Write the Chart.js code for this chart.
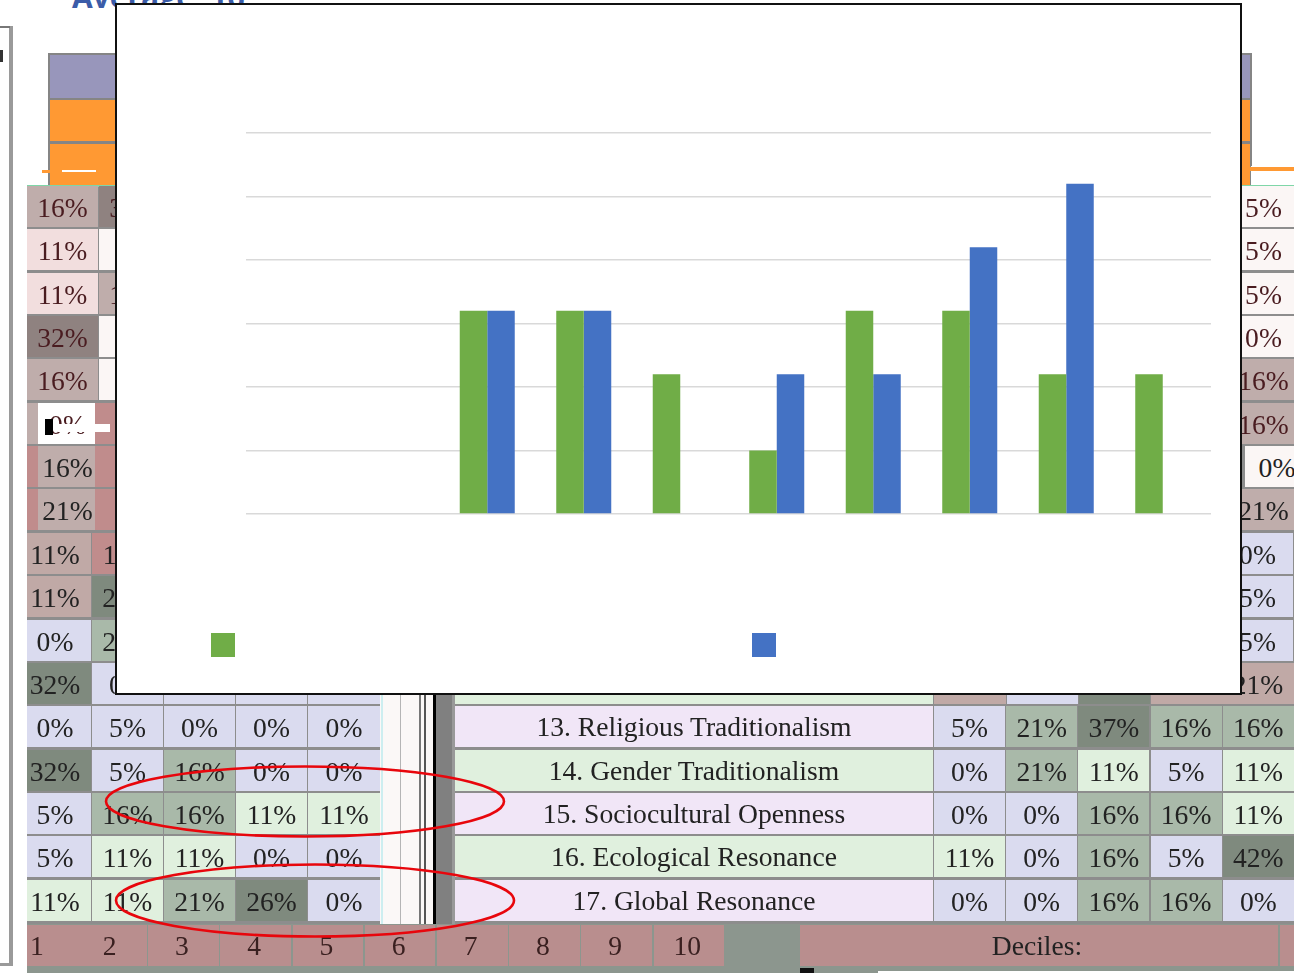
<!DOCTYPE html>
<html>
<head>
<meta charset="utf-8">
<title>Deciles</title>
<script src="https://cdn.jsdelivr.net/npm/chart.js@4"></script>
<style>
  html, body { margin: 0; padding: 0; background: #fff; }
  #page { position: relative; width: 1294px; height: 973px; overflow: hidden; background: #fff; }
  .box { position: absolute; }
  .cell { position: absolute; box-sizing: border-box; padding-top: 3px; font-family: "Liberation Serif", serif; font-size: 27.6px; color: #222;
          display: flex; align-items: center; justify-content: center; white-space: nowrap; overflow: hidden; }
  #table { position: absolute; left: 0; top: 0; width: 1294px; height: 973px; filter: blur(0.45px); }
  #title { position: absolute; left: 72px; top: -24px; font: bold 30px "Open Sans", sans-serif; color: #3b5ca8; }
  #panel { position: absolute; left: 115px; top: 3px; width: 1123px; height: 688px; background: #fff; border: 2px solid #111; }
  #chartWrap { position: absolute; left: 0; top: 0; width: 1123px; height: 688px; }
  .swatch { position: absolute; top: 628px; width: 24px; height: 24px; }
  #ellipses { position: absolute; left: 0; top: 0; }
</style>
</head>
<body>
<div id="page">
  <div id="title">Average: 16</div>
  <div id="table"></div>
  <div id="panel">
    <div id="chartWrap"><canvas id="decileChart" width="1123" height="688"></canvas></div>
  </div>
  <svg id="ellipses" width="1294" height="973">
    <ellipse cx="305" cy="801.5" rx="199" ry="35" fill="none" stroke="#e8060c" stroke-width="2.6"/>
    <ellipse cx="315" cy="900.5" rx="199" ry="36" fill="none" stroke="#e8060c" stroke-width="2.6"/>
  </svg>
</div>

<script>
// chart data
const deciles = ['1', '2', '3', '4', '5', '6', '7', '8', '9', '10'];
const greenValues = [0, 0, 16, 16, 11, 5, 16, 16, 11, 11];
const blueValues = [0, 0, 16, 16, 0, 11, 11, 21, 26, 0];
const yTicks = [0, 5, 10, 15, 20, 25, 30];
const GREEN = '#70ad47';
const BLUE = '#4472c4';

// table behind the chart, what can be read of it
const leftCol1 = [16, 11, 11, 32, 16, 0, 16, 21, 11, 11, 0, 32, 0, 32, 5, 5, 11];
const leftCol2 = [32, 0, 16, 0, 0, 16, 16, 16, 11, 26, 21, 0, 5, 5, 16, 11, 11];
const leftCol3 = [0, 16, 16, 11, 21];   // rows 13 to 17
const leftCol4 = [0, 0, 11, 0, 26];
const leftCol5 = [0, 0, 11, 0, 0];
const rowLabels = ['13. Religious Traditionalism', '14. Gender Traditionalism', '15. Sociocultural Openness',
  '16. Ecological Resonance', '17. Global Resonance'];
const rightCol1 = [5, 0, 0, 11, 0];
const rightCol2 = [21, 21, 0, 0, 0];
const rightCol3 = [37, 11, 16, 16, 16];
const rightCol4 = [16, 5, 16, 5, 16];
const rightCol5 = [16, 11, 11, 42, 0];
const lastCol = [5, 5, 5, 0, 16, 16, 0, 21, 0, 5, 5, 21];

const table = document.getElementById('table');

function addBox(x, y, w, h, color) {
  const d = document.createElement('div');
  d.className = 'box';
  d.style.cssText = `left:${x}px;top:${y}px;width:${w}px;height:${h}px;background:${color}`;
  table.appendChild(d);
  return d;
}

function addCell(x, y, w, h, color, text, extra) {
  const d = document.createElement('div');
  d.className = 'cell';
  d.style.cssText = `left:${x}px;top:${y}px;width:${w}px;height:${h}px;background:${color};${extra || ''}`;
  d.textContent = text;
  table.appendChild(d);
}

function roseColor(v) {
  if (v <= 5) return '#fbf6f5';
  if (v <= 11) return '#f2dede';
  if (v <= 21) return '#bfadab';
  return '#8f8280';
}

function coolColor(v) {
  if (v <= 5) return '#dadbef';
  if (v <= 11) return '#e0f0de';
  if (v <= 21) return '#a9b9a9';
  return '#7f8a7e';
}

const rowY = i => 186 + 43.35 * i;
const ROW_H = 41;
const COL1_PAD = 'padding-right:8px;';

// outer frame on the left
addBox(9, 26, 4, 940, '#9a9a9a');
addBox(0, 26, 10, 2, '#777');
addBox(0, 963, 13, 3, '#9a9a9a');
addBox(0, 50, 3, 12, '#333');

// headers
addBox(48, 53, 1204, 133, '#858585');
addBox(50, 55, 1200, 43, '#9896bb');
addBox(50, 100, 1200, 41, '#ff9933');
addBox(50, 144, 1200, 41, '#ff9933');
addBox(42, 170, 14, 3, '#ff9933');
addBox(62, 170, 34, 2, '#fff');
addBox(1251, 166, 43, 20, '#fff');
addBox(1250, 167, 44, 4, '#ff9933');
addBox(27, 185, 1267, 2, '#7fd6a8');

// grey ground for the table
addBox(27, 187, 1267, 737, '#8d8d8d');

// left columns, upper rows
leftCol1.forEach((v, i) => {
  const y = rowY(i);
  const ink = i < 6 ? 'color:#4a1c20;' : '';
  if (i < 5) {
    addCell(27, y, 71, ROW_H, roseColor(v), v + '%', ink);
    addCell(99, y, 71, ROW_H, roseColor(leftCol2[i]), leftCol2[i] + '%', ink);
  } else if (i < 8) {
    addBox(27, y, 11, ROW_H, i === 5 ? '#bfadab' : '#c08c8c');
    addCell(38, y, 59, ROW_H, i === 5 ? '#fff' : '#bfadab', v + '%', ink);
    addBox(95, y, 20, ROW_H, '#c08c8c');
  } else if (i < 12) {
    addCell(27, y, 64, ROW_H, i < 10 ? '#c0a9a6' : coolColor(v), v + '%', COL1_PAD);
    addCell(92, y, 71, ROW_H, i < 9 ? '#c08c8c' : coolColor(leftCol2[i]), leftCol2[i] + '%');
  } else {
    const k = i - 12;
    addCell(27, y, 64, ROW_H, coolColor(v), v + '%', COL1_PAD);
    addCell(92, y, 71, ROW_H, coolColor(leftCol2[i]), leftCol2[i] + '%');
    addCell(164, y, 71, ROW_H, coolColor(leftCol3[k]), leftCol3[k] + '%');
    addCell(236, y, 71, ROW_H, coolColor(leftCol4[k]), leftCol4[k] + '%');
    addCell(308, y, 72, ROW_H, coolColor(leftCol5[k]), leftCol5[k] + '%');
  }
});
// bottom edge of row 12 below the panel
addBox(164, rowY(11), 71, ROW_H, '#dadbef');
addBox(236, rowY(11), 71, ROW_H, '#dadbef');
addBox(308, rowY(11), 72, ROW_H, '#dadbef');

// white gap with the black rules
addBox(380, 690, 56, 234, '#fbf8f7');
addBox(381, 690, 2, 234, '#cdeef0');
addBox(400, 690, 1, 234, '#b5b5b5');
addBox(419, 690, 2, 234, '#777');
addBox(424, 690, 2, 234, '#555');
addBox(433, 690, 3, 234, '#000');
addBox(436, 690, 16, 234, '#808080');
addBox(452, 690, 3, 234, '#999');

// row 12 right part
addBox(455, rowY(11), 478, ROW_H, '#e0f0de');
addBox(934, rowY(11), 72, ROW_H, '#c0a9a6');
addBox(1007, rowY(11), 71, ROW_H, '#dadbef');
addBox(1079, rowY(11), 71, ROW_H, '#7f8a7e');
addBox(1151, rowY(11), 71, ROW_H, '#c0a9a6');
addBox(1223, rowY(11), 71, ROW_H, '#c0a9a6');

// labelled rows
rowLabels.forEach((label, r) => {
  const y = rowY(12 + r);
  addCell(455, y, 478, ROW_H, r % 2 === 0 ? '#f1e6f7' : '#e0f0de', label, 'padding-top:1px;');
  [rightCol1, rightCol2, rightCol3, rightCol4, rightCol5].forEach((col, c) => {
    addCell(934 + c * 72.2, y, 71, ROW_H, coolColor(col[r]), col[r] + '%');
  });
});

// strip of the last column beside the panel
lastCol.forEach((v, i) => {
  const y = rowY(i);
  if (i < 6) addCell(1233, y, 61, ROW_H, i < 4 ? '#fbf6f5' : '#bfadab', v + '%', 'color:#4a1c20;');
  else if (i === 6) addCell(1245, y, 64, ROW_H, '#fbf6f5', v + '%');
  else if (i === 7) addCell(1233, y, 61, ROW_H, '#bfadab', v + '%');
  else if (i < 11) addCell(1222, y, 71, ROW_H, '#dadbef', v + '%');
  else addCell(1222, y, 72, ROW_H, '#c0a9a6', v + '%');
});

// footer
addBox(27, 924, 1267, 49, '#8c968e');
addBox(27, 925, 49, 41, '#b98e8e');
deciles.forEach((d, i) => {
  if (i === 0) addCell(27, 925, 20, 41, 'transparent', d, 'color:#3a2020;padding-top:0;');
  else addCell(76 + 72.2 * (i - 1), 925, 70.5, 41, '#b98e8e', d, 'color:#3a2020;padding-right:3px;padding-top:0;');
});
addCell(800, 925, 478, 41, '#b98e8e', 'Deciles:', 'color:#222;padding-right:4px;padding-top:0;');
addBox(1280, 925, 14, 41, '#b98e8e');
addBox(878, 971, 416, 2, '#fff');
addBox(800, 968, 14, 5, '#111');

// bits of the broken row 6
addBox(45, 419, 8, 16, '#000');
addBox(58, 424, 52, 8, '#fff');

const ctx = document.getElementById('decileChart').getContext('2d');
new Chart(ctx, {
  type: 'bar',
  data: {
    labels: deciles,
    datasets: [
      { label: 'Green series', data: greenValues, backgroundColor: GREEN, borderWidth: 0 },
      { label: 'Blue series', data: blueValues, backgroundColor: BLUE, borderWidth: 0 }
    ]
  },
  options: {
    responsive: false,
    animation: false,
    layout: { padding: { left: 129, right: 29, top: 128, bottom: 171 } },
    datasets: { bar: { categoryPercentage: 0.57, barPercentage: 1 } },
    plugins: { legend: { display: false }, title: { display: false }, tooltip: { enabled: false } },
    scales: {
      x: {
        grid: { display: false },
        border: { display: false },
        ticks: { display: false }
      },
      y: {
        min: yTicks[0],
        max: yTicks[yTicks.length - 1],
        afterBuildTicks: axis => { axis.ticks = yTicks.map(value => ({ value })); },
        grid: { color: '#d9d9d9', lineWidth: 1.5, drawTicks: false },
        border: { display: false },
        ticks: { display: false }
      }
    }
  }
});

// swatches of the legend, its texts are blank in the picture
[[94, GREEN], [635, BLUE]].forEach(([x, color]) => {
  const s = document.createElement('div');
  s.className = 'swatch';
  s.style.left = x + 'px';
  s.style.background = color;
  document.getElementById('panel').appendChild(s);
});
</script>
</body>
</html>
